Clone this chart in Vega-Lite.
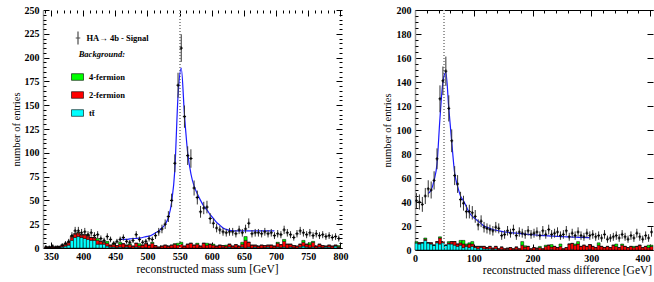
{
 "$schema": "https://vega.github.io/schema/vega-lite/v6.json",
 "padding": {"left": 11, "top": 5, "right": 0, "bottom": 0},
 "spacing": 34,
 "background": "white",
 "config": {
  "view": {"stroke": null},
  "axis": {"grid": false, "labelFont": "Liberation Serif", "titleFont": "Liberation Serif", "labelColor": "black", "titleColor": "black", "tickColor": "black"},
  "legend": {"labelFont": "Liberation Serif", "titleFont": "Liberation Serif"}
 },
 "resolve": {"scale": {"fill": "independent", "shape": "independent"}, "legend": {"fill": "independent", "shape": "independent"}},
 "datasets": {
  "sum": [
   {"c":342.5,"lo":340,"hi":345,"n":1,"e":1,"b1":0,"b2":1,"b3":0},
   {"c":347.5,"lo":345,"hi":350,"n":1,"e":1,"b1":0,"b2":1,"b3":0},
   {"c":352.5,"lo":350,"hi":355,"n":2,"e":1.4,"b1":0,"b2":1,"b3":0},
   {"c":357.5,"lo":355,"hi":360,"n":1,"e":1,"b1":0,"b2":1,"b3":0},
   {"c":362.5,"lo":360,"hi":365,"n":1,"e":1,"b1":0.5,"b2":1,"b3":0},
   {"c":367.5,"lo":365,"hi":370,"n":3,"e":1.7,"b1":1,"b2":2,"b3":0},
   {"c":372.5,"lo":370,"hi":375,"n":5,"e":2.2,"b1":2,"b2":2,"b3":0.5},
   {"c":377.5,"lo":375,"hi":380,"n":7,"e":2.6,"b1":3,"b2":3,"b3":0},
   {"c":382.5,"lo":380,"hi":385,"n":13,"e":3.6,"b1":8,"b2":4,"b3":0.5},
   {"c":387.5,"lo":385,"hi":390,"n":18,"e":4.2,"b1":11,"b2":4,"b3":0},
   {"c":392.5,"lo":390,"hi":395,"n":18,"e":4.2,"b1":12,"b2":4,"b3":0.5},
   {"c":397.5,"lo":395,"hi":400,"n":16,"e":4,"b1":11,"b2":3,"b3":0},
   {"c":402.5,"lo":400,"hi":405,"n":17,"e":4.1,"b1":10,"b2":4,"b3":0},
   {"c":407.5,"lo":405,"hi":410,"n":14,"e":3.7,"b1":9,"b2":4,"b3":0.5},
   {"c":412.5,"lo":410,"hi":415,"n":16,"e":4,"b1":8,"b2":3,"b3":0},
   {"c":417.5,"lo":415,"hi":420,"n":13,"e":3.6,"b1":8,"b2":3,"b3":0},
   {"c":422.5,"lo":420,"hi":425,"n":14,"e":3.7,"b1":4,"b2":4,"b3":2},
   {"c":427.5,"lo":425,"hi":430,"n":10,"e":3.2,"b1":4,"b2":3,"b3":0},
   {"c":432.5,"lo":430,"hi":435,"n":8,"e":2.8,"b1":4,"b2":2,"b3":0.5},
   {"c":437.5,"lo":435,"hi":440,"n":12,"e":3.5,"b1":2,"b2":3,"b3":2},
   {"c":442.5,"lo":440,"hi":445,"n":9,"e":3,"b1":1,"b2":2,"b3":0},
   {"c":447.5,"lo":445,"hi":450,"n":5,"e":2.2,"b1":1,"b2":3,"b3":1},
   {"c":452.5,"lo":450,"hi":455,"n":7,"e":2.6,"b1":0.5,"b2":2,"b3":0},
   {"c":457.5,"lo":455,"hi":460,"n":9,"e":3,"b1":1,"b2":3,"b3":2,"fit":9},
   {"c":462.5,"lo":460,"hi":465,"n":11,"e":3.3,"b1":0.5,"b2":4,"b3":0,"fit":9},
   {"c":467.5,"lo":465,"hi":470,"n":7,"e":2.6,"b1":1,"b2":2,"b3":0,"fit":9},
   {"c":472.5,"lo":470,"hi":475,"n":6,"e":2.4,"b1":0.5,"b2":3,"b3":1,"fit":9.5},
   {"c":477.5,"lo":475,"hi":480,"n":8,"e":2.8,"b1":0,"b2":2,"b3":0,"fit":10},
   {"c":482.5,"lo":480,"hi":485,"n":14,"e":3.7,"b1":1,"b2":4,"b3":0,"fit":10},
   {"c":487.5,"lo":485,"hi":490,"n":9,"e":3,"b1":0.5,"b2":2,"b3":2,"fit":10.5},
   {"c":492.5,"lo":490,"hi":495,"n":6,"e":2.4,"b1":0,"b2":3,"b3":0,"fit":11},
   {"c":497.5,"lo":495,"hi":500,"n":7,"e":2.6,"b1":0.5,"b2":4,"b3":0,"fit":12},
   {"c":502.5,"lo":500,"hi":505,"n":10,"e":3.2,"b1":0,"b2":3,"b3":0,"fit":12.5},
   {"c":507.5,"lo":505,"hi":510,"n":9,"e":3,"b1":0,"b2":5,"b3":1,"fit":14},
   {"c":512.5,"lo":510,"hi":515,"n":13,"e":3.6,"b1":0.5,"b2":2,"b3":0,"fit":16},
   {"c":517.5,"lo":515,"hi":520,"n":17,"e":4.1,"b1":0,"b2":1,"b3":0,"fit":18},
   {"c":522.5,"lo":520,"hi":525,"n":20,"e":4.5,"b1":0,"b2":2,"b3":0,"fit":21},
   {"c":527.5,"lo":525,"hi":530,"n":25,"e":5,"b1":0,"b2":3,"b3":0,"fit":25},
   {"c":532.5,"lo":530,"hi":535,"n":33,"e":5.7,"b1":0,"b2":2,"b3":0,"fit":32},
   {"c":537.5,"lo":535,"hi":540,"n":50,"e":7.1,"b1":0,"b2":3,"b3":0,"fit":48},
   {"c":542.5,"lo":540,"hi":545,"n":89,"e":9.4,"b1":0,"b2":4,"b3":0.5,"fit":82},
   {"c":547.5,"lo":545,"hi":550,"n":171,"e":13.1,"b1":0,"b2":3,"b3":2,"fit":160},
   {"c":552.5,"lo":550,"hi":555,"n":210,"e":14.5,"b1":0,"b2":4,"b3":2,"fit":189},
   {"c":557.5,"lo":555,"hi":560,"n":138,"e":11.7,"b1":0,"b2":2,"b3":0,"fit":140},
   {"c":562.5,"lo":560,"hi":565,"n":97,"e":9.8,"b1":0,"b2":4,"b3":0,"fit":100},
   {"c":567.5,"lo":565,"hi":570,"n":94,"e":9.7,"b1":0,"b2":5,"b3":0,"fit":78},
   {"c":572.5,"lo":570,"hi":575,"n":63,"e":7.9,"b1":0,"b2":3,"b3":0,"fit":65},
   {"c":577.5,"lo":575,"hi":580,"n":53,"e":7.3,"b1":0,"b2":4,"b3":1,"fit":57},
   {"c":582.5,"lo":580,"hi":585,"n":38,"e":6.2,"b1":0,"b2":2,"b3":0,"fit":50},
   {"c":587.5,"lo":585,"hi":590,"n":42,"e":6.5,"b1":0,"b2":5,"b3":0,"fit":44},
   {"c":592.5,"lo":590,"hi":595,"n":43,"e":6.6,"b1":0,"b2":3,"b3":2,"fit":40},
   {"c":597.5,"lo":595,"hi":600,"n":31,"e":5.6,"b1":0,"b2":4,"b3":0,"fit":35},
   {"c":602.5,"lo":600,"hi":605,"n":26,"e":5.1,"b1":0,"b2":3,"b3":1,"fit":31},
   {"c":607.5,"lo":605,"hi":610,"n":21,"e":4.6,"b1":0,"b2":2,"b3":0,"fit":27},
   {"c":612.5,"lo":610,"hi":615,"n":19,"e":4.4,"b1":0,"b2":3,"b3":0,"fit":24},
   {"c":617.5,"lo":615,"hi":620,"n":17,"e":4.1,"b1":0.5,"b2":2,"b3":0,"fit":21},
   {"c":622.5,"lo":620,"hi":625,"n":16,"e":4,"b1":0,"b2":2,"b3":1,"fit":19.5},
   {"c":627.5,"lo":625,"hi":630,"n":17,"e":4.1,"b1":1,"b2":3,"b3":0,"fit":18.5},
   {"c":632.5,"lo":630,"hi":635,"n":17,"e":4.1,"b1":0,"b2":2,"b3":0,"fit":18},
   {"c":637.5,"lo":635,"hi":640,"n":15,"e":3.9,"b1":0.5,"b2":3,"b3":0,"fit":18},
   {"c":642.5,"lo":640,"hi":645,"n":19,"e":4.4,"b1":0,"b2":2,"b3":0,"fit":18},
   {"c":647.5,"lo":645,"hi":650,"n":16,"e":4,"b1":1,"b2":3,"b3":2,"fit":18},
   {"c":652.5,"lo":650,"hi":655,"n":20,"e":4.5,"b1":0,"b2":8,"b3":4,"fit":18},
   {"c":657.5,"lo":655,"hi":660,"n":26,"e":5.1,"b1":1,"b2":5,"b3":0,"fit":18},
   {"c":662.5,"lo":660,"hi":665,"n":15,"e":3.9,"b1":0,"b2":3,"b3":0,"fit":18},
   {"c":667.5,"lo":665,"hi":670,"n":16,"e":4,"b1":1,"b2":2,"b3":0,"fit":18},
   {"c":672.5,"lo":670,"hi":675,"n":16,"e":4,"b1":0,"b2":2,"b3":0,"fit":18},
   {"c":677.5,"lo":675,"hi":680,"n":15,"e":3.9,"b1":0,"b2":3,"b3":0,"fit":18},
   {"c":682.5,"lo":680,"hi":685,"n":17,"e":4.1,"b1":0.5,"b2":2,"b3":0,"fit":18},
   {"c":687.5,"lo":685,"hi":690,"n":15,"e":3.9,"b1":1,"b2":2,"b3":0,"fit":18},
   {"c":692.5,"lo":690,"hi":695,"n":16,"e":4,"b1":0,"b2":3,"b3":0,"fit":18},
   {"c":697.5,"lo":695,"hi":700,"n":13,"e":3.6,"b1":0,"b2":2,"b3":0,"fit":18},
   {"c":702.5,"lo":700,"hi":705,"n":15,"e":3.9,"b1":1,"b2":4,"b3":1},
   {"c":707.5,"lo":705,"hi":710,"n":14,"e":3.7,"b1":0.5,"b2":3,"b3":0},
   {"c":712.5,"lo":710,"hi":715,"n":19,"e":4.4,"b1":1,"b2":6,"b3":2},
   {"c":717.5,"lo":715,"hi":720,"n":16,"e":4,"b1":0,"b2":4,"b3":0},
   {"c":722.5,"lo":720,"hi":725,"n":14,"e":3.7,"b1":1,"b2":3,"b3":0},
   {"c":727.5,"lo":725,"hi":730,"n":11,"e":3.3,"b1":0.5,"b2":2,"b3":0},
   {"c":732.5,"lo":730,"hi":735,"n":15,"e":3.9,"b1":0,"b2":2,"b3":0},
   {"c":737.5,"lo":735,"hi":740,"n":18,"e":4.2,"b1":1,"b2":3,"b3":0},
   {"c":742.5,"lo":740,"hi":745,"n":16,"e":4,"b1":2,"b2":4,"b3":2},
   {"c":747.5,"lo":745,"hi":750,"n":14,"e":3.7,"b1":1,"b2":3,"b3":0},
   {"c":752.5,"lo":750,"hi":755,"n":16,"e":4,"b1":0.5,"b2":3,"b3":2},
   {"c":757.5,"lo":755,"hi":760,"n":13,"e":3.6,"b1":1,"b2":5,"b3":1},
   {"c":762.5,"lo":760,"hi":765,"n":15,"e":3.9,"b1":0,"b2":2,"b3":0},
   {"c":767.5,"lo":765,"hi":770,"n":13,"e":3.6,"b1":1,"b2":3,"b3":0},
   {"c":772.5,"lo":770,"hi":775,"n":14,"e":3.7,"b1":0.5,"b2":2,"b3":0},
   {"c":777.5,"lo":775,"hi":780,"n":12,"e":3.5,"b1":1,"b2":1,"b3":0},
   {"c":782.5,"lo":780,"hi":785,"n":13,"e":3.6,"b1":1,"b2":2,"b3":0},
   {"c":787.5,"lo":785,"hi":790,"n":11,"e":3.3,"b1":0,"b2":2,"b3":0},
   {"c":792.5,"lo":790,"hi":795,"n":12,"e":3.5,"b1":2,"b2":1,"b3":0},
   {"c":797.5,"lo":795,"hi":800,"n":10,"e":3.2,"b1":0.5,"b2":1,"b3":1}
  ],
  "diff": [
   {"c":2.5,"lo":0,"hi":5,"n":41,"e":6.4,"b1":6,"b2":0,"b3":1},
   {"c":7.5,"lo":5,"hi":10,"n":40,"e":6.3,"b1":5,"b2":1,"b3":0},
   {"c":12.5,"lo":10,"hi":15,"n":38,"e":6.2,"b1":6,"b2":0,"b3":0},
   {"c":17.5,"lo":15,"hi":20,"n":45,"e":6.7,"b1":8,"b2":1,"b3":1},
   {"c":22.5,"lo":20,"hi":25,"n":51,"e":7.1,"b1":6,"b2":0,"b3":0,"fit":47},
   {"c":27.5,"lo":25,"hi":30,"n":50,"e":7.1,"b1":5,"b2":1,"b3":0,"fit":50},
   {"c":32.5,"lo":30,"hi":35,"n":58,"e":7.6,"b1":4,"b2":0,"b3":0,"fit":58},
   {"c":37.5,"lo":35,"hi":40,"n":76,"e":8.7,"b1":6,"b2":1,"b3":0,"fit":72},
   {"c":42.5,"lo":40,"hi":45,"n":126,"e":11.2,"b1":5,"b2":5,"b3":1,"fit":110},
   {"c":47.5,"lo":45,"hi":50,"n":141,"e":11.9,"b1":6,"b2":1,"b3":0,"fit":140},
   {"c":52.5,"lo":50,"hi":55,"n":149,"e":12.2,"b1":4,"b2":0,"b3":0,"fit":148},
   {"c":57.5,"lo":55,"hi":60,"n":118,"e":10.9,"b1":5,"b2":1,"b3":1,"fit":118},
   {"c":62.5,"lo":60,"hi":65,"n":91,"e":9.5,"b1":5,"b2":2,"b3":0,"fit":90},
   {"c":67.5,"lo":65,"hi":70,"n":62,"e":7.9,"b1":4,"b2":3,"b3":0,"fit":64},
   {"c":72.5,"lo":70,"hi":75,"n":55,"e":7.4,"b1":3,"b2":2,"b3":0,"fit":53},
   {"c":77.5,"lo":75,"hi":80,"n":42,"e":6.5,"b1":4,"b2":2,"b3":2,"fit":45},
   {"c":82.5,"lo":80,"hi":85,"n":39,"e":6.2,"b1":2,"b2":3,"b3":3,"fit":41},
   {"c":87.5,"lo":85,"hi":90,"n":32,"e":5.7,"b1":3,"b2":1,"b3":1,"fit":36},
   {"c":92.5,"lo":90,"hi":95,"n":32,"e":5.7,"b1":2,"b2":3,"b3":1,"fit":31},
   {"c":97.5,"lo":95,"hi":100,"n":31,"e":5.6,"b1":3,"b2":2,"b3":2,"fit":28},
   {"c":102.5,"lo":100,"hi":105,"n":28,"e":5.3,"b1":2,"b2":1,"b3":0,"fit":26},
   {"c":107.5,"lo":105,"hi":110,"n":21,"e":4.6,"b1":1,"b2":2,"b3":0,"fit":24},
   {"c":112.5,"lo":110,"hi":115,"n":24,"e":4.9,"b1":2,"b2":1,"b3":0,"fit":22},
   {"c":117.5,"lo":115,"hi":120,"n":19,"e":4.4,"b1":1,"b2":2,"b3":0,"fit":20},
   {"c":122.5,"lo":120,"hi":125,"n":18,"e":4.2,"b1":1,"b2":1,"b3":0,"fit":19},
   {"c":127.5,"lo":125,"hi":130,"n":17,"e":4.1,"b1":1,"b2":2,"b3":0,"fit":18},
   {"c":132.5,"lo":130,"hi":135,"n":16,"e":4,"b1":0.5,"b2":1,"b3":0,"fit":17},
   {"c":137.5,"lo":135,"hi":140,"n":19,"e":4.4,"b1":1,"b2":2,"b3":0,"fit":16.5},
   {"c":142.5,"lo":140,"hi":145,"n":18,"e":4.2,"b1":0,"b2":1,"b3":0,"fit":16},
   {"c":147.5,"lo":145,"hi":150,"n":12,"e":3.5,"b1":0.5,"b2":2,"b3":0,"fit":15.5},
   {"c":152.5,"lo":150,"hi":155,"n":13,"e":3.6,"b1":0,"b2":1,"b3":0,"fit":15},
   {"c":157.5,"lo":155,"hi":160,"n":16,"e":4,"b1":0.5,"b2":1,"b3":0,"fit":14.8},
   {"c":162.5,"lo":160,"hi":165,"n":14,"e":3.7,"b1":0,"b2":2,"b3":0,"fit":14.5},
   {"c":167.5,"lo":165,"hi":170,"n":17,"e":4.1,"b1":0,"b2":1,"b3":0,"fit":14.2},
   {"c":172.5,"lo":170,"hi":175,"n":12,"e":3.5,"b1":0.5,"b2":2,"b3":0,"fit":14},
   {"c":177.5,"lo":175,"hi":180,"n":15,"e":3.9,"b1":0,"b2":1,"b3":0,"fit":13.8},
   {"c":182.5,"lo":180,"hi":185,"n":14,"e":3.7,"b1":0,"b2":4,"b3":3,"fit":13.5},
   {"c":187.5,"lo":185,"hi":190,"n":13,"e":3.6,"b1":0.5,"b2":2,"b3":1,"fit":13.3},
   {"c":192.5,"lo":190,"hi":195,"n":16,"e":4,"b1":0,"b2":3,"b3":0,"fit":13},
   {"c":197.5,"lo":195,"hi":200,"n":13,"e":3.6,"b1":0,"b2":1,"b3":0,"fit":12.8},
   {"c":202.5,"lo":200,"hi":205,"n":14,"e":3.7,"b1":0,"b2":2,"b3":0,"fit":12.6},
   {"c":207.5,"lo":205,"hi":210,"n":15,"e":3.9,"b1":0.5,"b2":1,"b3":0,"fit":12.4},
   {"c":212.5,"lo":210,"hi":215,"n":12,"e":3.5,"b1":0,"b2":2,"b3":1,"fit":12.2},
   {"c":217.5,"lo":215,"hi":220,"n":16,"e":4,"b1":0,"b2":1,"b3":0,"fit":12},
   {"c":222.5,"lo":220,"hi":225,"n":13,"e":3.6,"b1":0,"b2":3,"b3":1,"fit":11.9},
   {"c":227.5,"lo":225,"hi":230,"n":17,"e":4.1,"b1":0,"b2":4,"b3":0,"fit":11.7},
   {"c":232.5,"lo":230,"hi":235,"n":13,"e":3.6,"b1":0.5,"b2":2,"b3":2,"fit":11.6},
   {"c":237.5,"lo":235,"hi":240,"n":14,"e":3.7,"b1":0,"b2":3,"b3":0,"fit":11.5},
   {"c":242.5,"lo":240,"hi":245,"n":15,"e":3.9,"b1":0,"b2":2,"b3":0,"fit":11.3},
   {"c":247.5,"lo":245,"hi":250,"n":12,"e":3.5,"b1":0,"b2":3,"b3":2,"fit":11.2},
   {"c":252.5,"lo":250,"hi":255,"n":13,"e":3.6,"b1":0,"b2":1,"b3":0,"fit":11.1},
   {"c":257.5,"lo":255,"hi":260,"n":16,"e":4,"b1":0,"b2":2,"b3":0,"fit":11},
   {"c":262.5,"lo":260,"hi":265,"n":11,"e":3.3,"b1":0,"b2":5,"b3":0,"fit":10.9},
   {"c":267.5,"lo":265,"hi":270,"n":14,"e":3.7,"b1":0.5,"b2":5,"b3":0,"fit":10.8},
   {"c":272.5,"lo":270,"hi":275,"n":12,"e":3.5,"b1":0,"b2":4,"b3":1,"fit":10.7},
   {"c":277.5,"lo":275,"hi":280,"n":15,"e":3.9,"b1":0,"b2":5,"b3":2,"fit":10.6},
   {"c":282.5,"lo":280,"hi":285,"n":12,"e":3.5,"b1":0,"b2":3,"b3":0,"fit":10.5},
   {"c":287.5,"lo":285,"hi":290,"n":11,"e":3.3,"b1":0,"b2":4,"b3":0,"fit":10.4},
   {"c":292.5,"lo":290,"hi":295,"n":14,"e":3.7,"b1":0,"b2":3,"b3":0,"fit":10.3},
   {"c":297.5,"lo":295,"hi":300,"n":12,"e":3.5,"b1":0.5,"b2":4,"b3":0,"fit":10.2},
   {"c":302.5,"lo":300,"hi":305,"n":13,"e":3.6,"b1":0,"b2":3,"b3":0},
   {"c":307.5,"lo":305,"hi":310,"n":11,"e":3.3,"b1":0,"b2":2,"b3":0},
   {"c":312.5,"lo":310,"hi":315,"n":12,"e":3.5,"b1":0,"b2":4,"b3":2},
   {"c":317.5,"lo":315,"hi":320,"n":10,"e":3.2,"b1":0,"b2":3,"b3":0},
   {"c":322.5,"lo":320,"hi":325,"n":13,"e":3.6,"b1":0,"b2":2,"b3":0},
   {"c":327.5,"lo":325,"hi":330,"n":9,"e":3,"b1":0,"b2":3,"b3":0},
   {"c":332.5,"lo":330,"hi":335,"n":10,"e":3.2,"b1":0,"b2":2,"b3":0},
   {"c":337.5,"lo":335,"hi":340,"n":11,"e":3.3,"b1":0,"b2":4,"b3":0},
   {"c":342.5,"lo":340,"hi":345,"n":12,"e":3.5,"b1":0,"b2":3,"b3":2},
   {"c":347.5,"lo":345,"hi":350,"n":10,"e":3.2,"b1":0,"b2":2,"b3":0},
   {"c":352.5,"lo":350,"hi":355,"n":13,"e":3.6,"b1":0,"b2":4,"b3":1},
   {"c":357.5,"lo":355,"hi":360,"n":11,"e":3.3,"b1":0,"b2":3,"b3":0},
   {"c":362.5,"lo":360,"hi":365,"n":9,"e":3,"b1":0,"b2":2,"b3":0},
   {"c":367.5,"lo":365,"hi":370,"n":12,"e":3.5,"b1":0,"b2":3,"b3":0},
   {"c":372.5,"lo":370,"hi":375,"n":10,"e":3.2,"b1":0,"b2":2,"b3":1},
   {"c":377.5,"lo":375,"hi":380,"n":14,"e":3.7,"b1":0,"b2":3,"b3":0},
   {"c":382.5,"lo":380,"hi":385,"n":11,"e":3.3,"b1":0,"b2":4,"b3":0},
   {"c":387.5,"lo":385,"hi":390,"n":9,"e":3,"b1":0,"b2":2,"b3":0},
   {"c":392.5,"lo":390,"hi":395,"n":12,"e":3.5,"b1":0,"b2":3,"b3":0},
   {"c":397.5,"lo":395,"hi":400,"n":10,"e":3.2,"b1":0,"b2":2,"b3":2},
   {"c":402.5,"lo":400,"hi":405,"n":15,"e":3.9,"b1":0,"b2":3,"b3":1}
  ]
 },
 "hconcat": [
  {
   "width": 299, "height": 238,
   "data": {"name": "sum"},
   "resolve": {"axis": {"x": "independent", "y": "independent"}},
   "layer": [
    {
     "transform": [
      {"fold": ["b1", "b2", "b3"], "as": ["bg", "cnt"]},
      {"stack": "cnt", "groupby": ["c"], "sort": [{"field": "bg", "order": "ascending"}], "as": ["y0", "y1"]}
     ],
     "mark": {"type": "rect", "stroke": "black", "strokeWidth": 0.5},
     "encoding": {
      "x": {"field": "lo", "type": "quantitative", "scale": {"domain": [337.5, 802.5], "nice": false, "zero": false},
       "axis": {"orient": "bottom", "values": [350,400,450,500,550,600,650,700,750,800], "tickSize": -6, "domainColor": "black", "labelPadding": 9, "labelFontSize": 10, "labelFontWeight": "bold", "title": "reconstructed mass sum [GeV]", "titleFontSize": 11.5, "titleFontWeight": "normal", "titleX": 164, "titleY": 15, "titleAlign": "center", "titleBaseline": "top"}},
      "x2": {"field": "hi"},
      "y": {"field": "y0", "type": "quantitative", "scale": {"domain": [0, 250], "nice": false},
       "axis": {"orient": "left", "values": [0,25,50,75,100,125,150,175,200,225,250], "tickSize": -6, "domainColor": "#999", "domainWidth": 1.5, "labelPadding": 10, "labelFontSize": 10, "labelFontWeight": "bold", "title": "number of entries", "titleFontSize": 10.5, "titleFontWeight": "normal", "titleX": -27, "titleY": 119, "titleAlign": "center", "titleBaseline": "middle", "titleAngle": 270}},
      "y2": {"field": "y1"},
      "fill": {"field": "bg", "type": "nominal", "scale": {"domain": ["b3", "b2", "b1"], "range": ["#00ff00", "#ff0000", "#00ffff"]},
       "legend": {"orient": "none", "legendX": 28, "legendY": 39.5, "title": "Background:", "titleFontSize": 8.5, "titleFontWeight": "bold", "titleFontStyle": "italic", "titleAnchor": "end", "titlePadding": 12.5, "titleColor": "black", "labelFontSize": 8.5, "labelFontWeight": "bold", "labelColor": "black", "labelOffset": 5, "rowPadding": 7, "symbolType": "M-1,-0.55H1V0.55H-1Z", "symbolSize": 144, "symbolStrokeColor": "black", "symbolStrokeWidth": 0.6, "labelExpr": "datum.label == 'b1' ? 'tt\u0304' : datum.label == 'b2' ? '2-fermion' : '4-fermion'"}}
     }
    },
    {
     "mark": {"type": "rule", "color": "#999", "strokeDash": [1, 2], "strokeWidth": 1},
     "encoding": {
      "x": {"datum": 550, "type": "quantitative", "scale": {"domain": [337.5, 802.5], "nice": false, "zero": false},
       "axis": {"orient": "top", "values": [350,400,450,500,550,600,650,700,750,800], "tickSize": -6, "labels": false, "domain": false, "title": null}}
     }
    },
    {
     "transform": [{"filter": "isValid(datum.fit)"}],
     "mark": {"type": "line", "color": "#1a1aff", "strokeWidth": 1.2, "interpolate": "monotone"},
     "encoding": {
      "x": {"field": "c", "type": "quantitative", "scale": {"domain": [337.5, 802.5], "nice": false, "zero": false}, "axis": null},
      "y": {"field": "fit", "type": "quantitative", "scale": {"domain": [0, 250], "nice": false},
       "axis": {"orient": "right", "values": [0,25,50,75,100,125,150,175,200,225,250], "tickSize": -6, "labels": false, "domain": false, "title": null}}
     }
    },
    {
     "mark": {"type": "errorbar", "color": "#333"},
     "encoding": {
      "x": {"field": "c", "type": "quantitative", "scale": {"domain": [337.5, 802.5], "nice": false, "zero": false},
       "axis": {"orient": "bottom", "values": [340,360,370,380,390,410,420,430,440,460,470,480,490,510,520,530,540,560,570,580,590,610,620,630,640,660,670,680,690,710,720,730,740,760,770,780,790], "tickSize": -3, "labels": false, "domain": false, "title": null}},
      "y": {"field": "n", "type": "quantitative", "scale": {"domain": [0, 250], "nice": false}, "axis": null},
      "yError": {"field": "e"}
     }
    },
    {
     "mark": {"type": "rule", "color": "black", "strokeWidth": 1},
     "encoding": {
      "x": {"field": "lo", "type": "quantitative", "scale": {"domain": [337.5, 802.5], "nice": false, "zero": false},
       "axis": {"orient": "top", "values": [340,360,370,380,390,410,420,430,440,460,470,480,490,510,520,530,540,560,570,580,590,610,620,630,640,660,670,680,690,710,720,730,740,760,770,780,790], "tickSize": -3, "labels": false, "domain": false, "title": null}},
      "x2": {"field": "hi"},
      "y": {"field": "n", "type": "quantitative", "scale": {"domain": [0, 250], "nice": false},
       "axis": {"orient": "left", "values": [5,10,15,20,30,35,40,45,55,60,65,70,80,85,90,95,105,110,115,120,130,135,140,145,155,160,165,170,180,185,190,195,205,210,215,220,230,235,240,245], "tickSize": -3, "labels": false, "domain": false, "title": null}}
     }
    },
    {
     "mark": {"type": "point", "filled": false, "size": 10, "stroke": "black", "strokeWidth": 1.5},
     "encoding": {
      "x": {"field": "c", "type": "quantitative", "scale": {"domain": [337.5, 802.5], "nice": false, "zero": false}, "axis": null},
      "y": {"field": "n", "type": "quantitative", "scale": {"domain": [0, 250], "nice": false},
       "axis": {"orient": "right", "values": [5,10,15,20,30,35,40,45,55,60,65,70,80,85,90,95,105,110,115,120,130,135,140,145,155,160,165,170,180,185,190,195,205,210,215,220,230,235,240,245], "tickSize": -3, "labels": false, "domain": false, "title": null}},
      "shape": {"datum": "HA\u2192 4b - Signal", "type": "nominal", "scale": {"range": ["M0,-1V1M-0.35,0H0.35"]},
       "legend": {"orient": "none", "legendX": 27.5, "legendY": 20.5, "title": null, "labelFontSize": 8.5, "labelFontWeight": "bold", "labelColor": "black", "labelOffset": 1, "symbolSize": 169, "symbolStrokeColor": "black", "symbolStrokeWidth": 1.2,
        "encode": {"symbols": {"update": {"size": {"value": 169}, "strokeWidth": {"value": 1.2}, "stroke": {"value": "black"}}}}}}
     }
    }
   ]
  },
  {
   "width": 238, "height": 240,
   "data": {"name": "diff"},
   "resolve": {"axis": {"x": "independent", "y": "independent"}},
   "layer": [
    {
     "transform": [
      {"fold": ["b1", "b2", "b3"], "as": ["bg", "cnt"]},
      {"stack": "cnt", "groupby": ["c"], "sort": [{"field": "bg", "order": "ascending"}], "as": ["y0", "y1"]}
     ],
     "mark": {"type": "rect", "stroke": "black", "strokeWidth": 0.5},
     "encoding": {
      "x": {"field": "lo", "type": "quantitative", "scale": {"domain": [0, 405], "nice": false, "zero": false},
       "axis": {"orient": "bottom", "values": [0,100,200,300,400], "tickSize": -6, "domainColor": "black", "labelPadding": 9, "labelFontSize": 10, "labelFontWeight": "bold", "labelAlign": {"condition": {"test": "datum.value >= 400", "value": "right"}, "value": "center"}, "title": "reconstructed mass difference [GeV]", "titleFontSize": 11.5, "titleFontWeight": "normal", "titleX": 152, "titleY": 14, "titleAlign": "center", "titleBaseline": "top"}},
      "x2": {"field": "hi"},
      "y": {"field": "y0", "type": "quantitative", "scale": {"domain": [0, 200], "nice": false},
       "axis": {"orient": "left", "values": [0,20,40,60,80,100,120,140,160,180,200], "tickSize": -6, "domainColor": "#999", "domainWidth": 1.5, "labelPadding": 10, "labelFontSize": 10, "labelFontWeight": "bold", "title": "number of entries", "titleFontSize": 10.5, "titleFontWeight": "normal", "titleX": -28, "titleY": 120, "titleAlign": "center", "titleBaseline": "middle", "titleAngle": 270}},
      "y2": {"field": "y1"},
      "fill": {"field": "bg", "type": "nominal", "scale": {"domain": ["b3", "b2", "b1"], "range": ["#00ff00", "#ff0000", "#00ffff"]}, "legend": null}
     }
    },
    {
     "mark": {"type": "rule", "color": "#999", "strokeDash": [1, 2], "strokeWidth": 1},
     "encoding": {
      "x": {"datum": 50, "type": "quantitative", "scale": {"domain": [0, 405], "nice": false, "zero": false},
       "axis": {"orient": "top", "values": [0,100,200,300,400], "tickSize": -6, "labels": false, "domain": true, "domainColor": "black", "title": null}}
     }
    },
    {
     "transform": [{"filter": "isValid(datum.fit)"}],
     "mark": {"type": "line", "color": "#1a1aff", "strokeWidth": 1.2, "interpolate": "monotone"},
     "encoding": {
      "x": {"field": "c", "type": "quantitative", "scale": {"domain": [0, 405], "nice": false, "zero": false}, "axis": null},
      "y": {"field": "fit", "type": "quantitative", "scale": {"domain": [0, 200], "nice": false},
       "axis": {"orient": "right", "values": [0,20,40,60,80,100,120,140,160,180,200], "tickSize": -6, "labels": false, "domain": false, "title": null}}
     }
    },
    {
     "mark": {"type": "errorbar", "color": "#333"},
     "encoding": {
      "x": {"field": "c", "type": "quantitative", "scale": {"domain": [0, 405], "nice": false, "zero": false},
       "axis": {"orient": "bottom", "values": [20,40,60,80,120,140,160,180,220,240,260,280,320,340,360,380], "tickSize": -3, "labels": false, "domain": false, "title": null}},
      "y": {"field": "n", "type": "quantitative", "scale": {"domain": [0, 200], "nice": false}, "axis": null},
      "yError": {"field": "e"}
     }
    },
    {
     "mark": {"type": "rule", "color": "black", "strokeWidth": 1},
     "encoding": {
      "x": {"field": "lo", "type": "quantitative", "scale": {"domain": [0, 405], "nice": false, "zero": false},
       "axis": {"orient": "top", "values": [20,40,60,80,120,140,160,180,220,240,260,280,320,340,360,380], "tickSize": -3, "labels": false, "domain": false, "title": null}},
      "x2": {"field": "hi"},
      "y": {"field": "n", "type": "quantitative", "scale": {"domain": [0, 200], "nice": false},
       "axis": {"orient": "left", "values": [5,10,15,25,30,35,45,50,55,65,70,75,85,90,95,105,110,115,125,130,135,145,150,155,165,170,175,185,190,195], "tickSize": -3, "labels": false, "domain": false, "title": null}}
     }
    },
    {
     "mark": {"type": "point", "filled": false, "size": 10, "stroke": "black", "strokeWidth": 1.5, "shape": "M0,-1V1M-0.35,0H0.35"},
     "encoding": {
      "x": {"field": "c", "type": "quantitative", "scale": {"domain": [0, 405], "nice": false, "zero": false}, "axis": null},
      "y": {"field": "n", "type": "quantitative", "scale": {"domain": [0, 200], "nice": false}, "axis": null}
     }
    }
   ]
  }
 ]
}
